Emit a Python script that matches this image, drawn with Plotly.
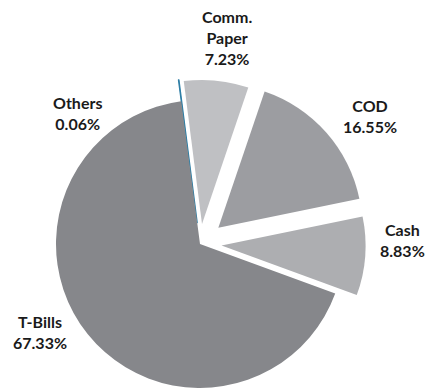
import math
import plotly.graph_objects as go

# Portfolio allocation (% of total), listed clockwise from 12 o'clock
labels = ["Others", "Comm. Paper", "COD", "Cash", "T-Bills"]
values = [0.06, 7.23, 16.55, 8.83, 67.33]
colors = ["#2f7fa6", "#bfc0c3", "#9c9da1", "#adaeb1", "#86878b"]
# how far each wedge is pulled out, as a fraction of the radius
pulls = [0.15, 0.14, 0.17, 0.15, 0.0]

W, H = 426, 390
CX, CY, R = 200, 244, 144      # pie centre and radius in pixels
ROTATION = -7.5                # start angle of the first wedge (deg, clockwise)

total = sum(values)
fig = go.Figure()

# Each wedge gets its own pie trace so that exploded wedges can be offset
# along their bisector without shrinking the whole pie.
start = 0.0
for i, (lab, val) in enumerate(zip(labels, values)):
    mid = math.radians(ROTATION + 360.0 * (start + val / 2.0) / total)
    start += val
    dx = pulls[i] * R * math.sin(mid)
    dy = -pulls[i] * R * math.cos(mid)
    cx, cy = CX + dx, CY + dy
    dom_x = [max(0.0, (cx - R) / W), min(1.0, (cx + R) / W)]
    dom_y = [max(0.0, 1 - (cy + R) / H), min(1.0, 1 - (cy - R) / H)]
    slice_colors = ["rgba(0,0,0,0)"] * len(values)
    slice_colors[i] = colors[i]
    line_w = [0] * len(values)
    line_w[i] = 1.2 if val < 1 else 0
    fig.add_trace(go.Pie(
        labels=labels,
        values=values,
        sort=False,
        direction="clockwise",
        rotation=ROTATION,
        domain=dict(x=dom_x, y=dom_y),
        marker=dict(colors=slice_colors,
                    line=dict(color=[colors[i]] * len(values), width=line_w)),
        textinfo="none",
        hoverinfo="skip" if i else "label+percent",
        showlegend=False,
    ))

# Label anchor points (pixels) for each wedge
label_pos = {
    "Others": (77, 113),
    "Comm. Paper": (227, 37),
    "COD": (370, 116),
    "Cash": (402, 240),
    "T-Bills": (40, 332),
}

for lab, val in zip(labels, values):
    px, py = label_pos[lab]
    name = lab.replace(" ", "<br>")
    fig.add_annotation(
        x=px / W, y=1 - py / H, xref="paper", yref="paper",
        text=f"{name}<br>{val:.2f}%",
        showarrow=False, xanchor="center", yanchor="middle",
        font=dict(family="Lato", size=16, color="#1a1a1a", weight="bold"),
    )

fig.update_layout(
    width=W, height=H,
    margin=dict(l=0, r=0, t=0, b=0),
    paper_bgcolor="white",
    plot_bgcolor="white",
)

fig.write_html("out.html")
